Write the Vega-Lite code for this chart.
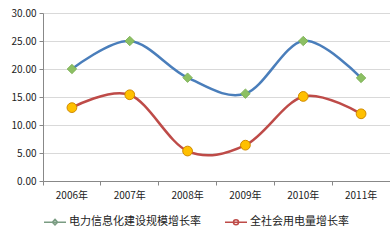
{
  "$schema": "https://vega.github.io/schema/vega-lite/v6.json",
  "width": 347,
  "height": 168,
  "autosize": "none",
  "padding": {"left": 43, "top": 13, "right": 0, "bottom": 59},
  "background": "white",
  "config": {"view": {"stroke": null}, "font": "Noto Sans CJK SC"},
  "data": {
    "values": [
      {"year": "2006年", "series": "电力信息化建设规模增长率", "value": 20.0},
      {"year": "2007年", "series": "电力信息化建设规模增长率", "value": 25.0},
      {"year": "2008年", "series": "电力信息化建设规模增长率", "value": 18.45},
      {"year": "2009年", "series": "电力信息化建设规模增长率", "value": 15.6},
      {"year": "2010年", "series": "电力信息化建设规模增长率", "value": 25.0},
      {"year": "2011年", "series": "电力信息化建设规模增长率", "value": 18.4},
      {"year": "2006年", "series": "全社会用电量增长率", "value": 13.1},
      {"year": "2007年", "series": "全社会用电量增长率", "value": 15.4},
      {"year": "2008年", "series": "全社会用电量增长率", "value": 5.35},
      {"year": "2009年", "series": "全社会用电量增长率", "value": 6.4},
      {"year": "2010年", "series": "全社会用电量增长率", "value": 15.1},
      {"year": "2011年", "series": "全社会用电量增长率", "value": 12.0}
    ]
  },
  "encoding": {
    "x": {
      "field": "year", "type": "ordinal",
      "scale": {"type": "band", "paddingInner": 0, "paddingOuter": 0},
      "axis": {"title": null, "labelAngle": 0, "bandPosition": 0, "grid": false, "domainColor": "#888888", "tickColor": "#888888", "tickSize": 4, "labelFontSize": 10, "labelColor": "#222222", "labelPadding": 5}
    },
    "y": {
      "field": "value", "type": "quantitative",
      "scale": {"domain": [0, 30]},
      "axis": {"title": null, "values": [0, 5, 10, 15, 20, 25, 30], "format": ".2f", "grid": true, "gridColor": "#d9d9d9", "domainColor": "#888888", "tickColor": "#888888", "tickSize": 4, "labelPadding": 3, "labelFontSize": 10, "labelColor": "#222222"}
    }
  },
  "layer": [
    {
      "transform": [{"filter": "datum.series === '电力信息化建设规模增长率'"}],
      "mark": {"type": "line", "interpolate": "cardinal", "strokeWidth": 2.5, "color": "#4A7EBB"}
    },
    {
      "transform": [{"filter": "datum.series === '全社会用电量增长率'"}],
      "mark": {"type": "line", "interpolate": "cardinal", "strokeWidth": 2.5, "color": "#BE4B48"}
    },
    {
      "transform": [{"filter": "datum.series === '电力信息化建设规模增长率'"}],
      "mark": {"type": "point", "shape": "diamond", "filled": true, "size": 90, "fill": "#8CC063", "stroke": "#78AC50", "strokeWidth": 0.8, "opacity": 1}
    },
    {
      "transform": [{"filter": "datum.series === '全社会用电量增长率'"}],
      "mark": {"type": "point", "shape": "circle", "filled": true, "size": 95, "fill": "#FFC000", "stroke": "#D08A00", "strokeWidth": 1, "opacity": 1}
    },
    {
      "mark": {"type": "point", "filled": true, "opacity": 0, "size": 484, "strokeWidth": 1.5},
      "encoding": {
        "stroke": {"field": "series", "type": "nominal", "scale": {"domain": ["电力信息化建设规模增长率", "全社会用电量增长率"], "range": ["#7A9C82", "#BE4B48"]}, "legend": {"orient": "none", "legendX": 0, "legendY": 197, "direction": "horizontal", "title": null, "labelFontSize": 11, "labelColor": "#222222", "labelOffset": 2, "columnPadding": 21, "labelLimit": 300, "symbolOpacity": 1, "symbolStrokeWidth": 1.5, "symbolSize": 484}},
        "fill": {"field": "series", "type": "nominal", "scale": {"domain": ["电力信息化建设规模增长率", "全社会用电量增长率"], "range": ["#8CC063", "#FFC000"]}},
        "shape": {"field": "series", "type": "nominal", "scale": {"domain": ["电力信息化建设规模增长率", "全社会用电量增长率"], "range": ["M-1,0H1M0,-0.25L0.24,0L0,0.25L-0.24,0Z", "M-1,0H1M0.23,0A0.23,0.23,0,1,1,-0.23,0A0.23,0.23,0,1,1,0.23,0Z"]}}
      }
    }
  ]
}
